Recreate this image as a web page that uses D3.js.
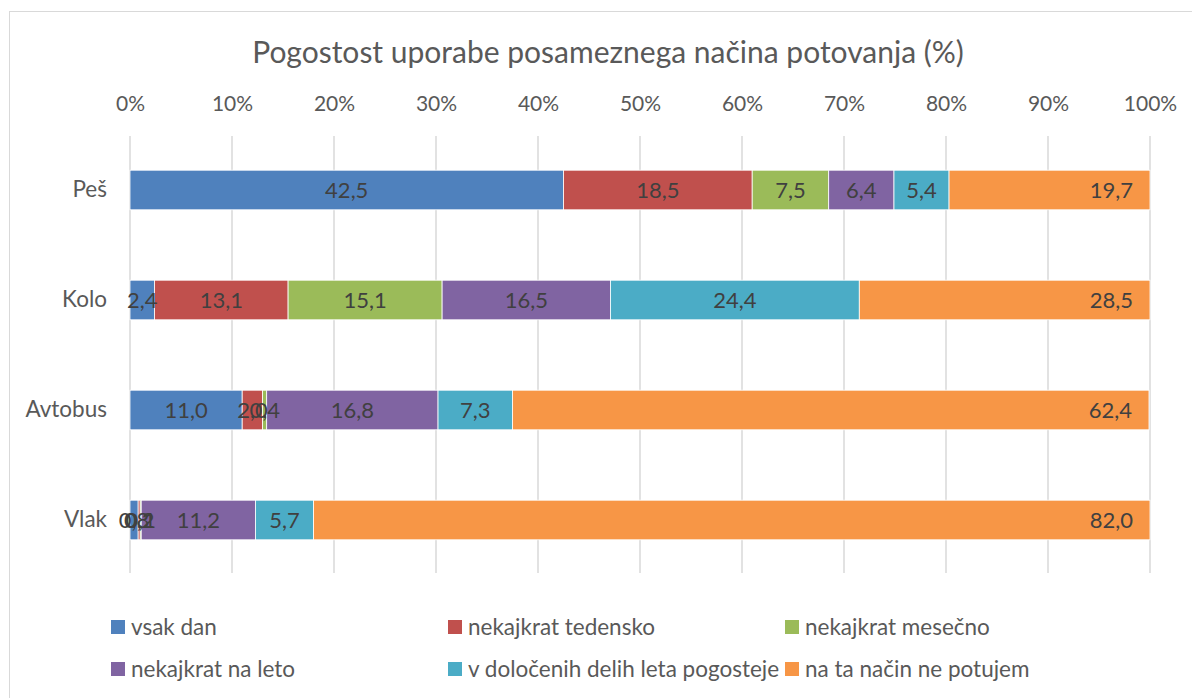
<!DOCTYPE html>
<html>
<head>
<meta charset="utf-8">
<script src="https://cdn.jsdelivr.net/npm/d3@7"></script>
<style>
  body { margin: 0; background: #fff; }
  text { font-family: Lato, "Open Sans", sans-serif; }
</style>
</head>
<body>
<div id="chart"></div>
<script>
var categories = ["Peš", "Kolo", "Avtobus", "Vlak"];
var seriesNames = ["vsak dan", "nekajkrat tedensko", "nekajkrat mesečno",
                   "nekajkrat na leto", "v določenih delih leta pogosteje", "na ta način ne potujem"];
var vsakDan      = [42.5, 2.4, 11.0, 0.8];
var tedensko     = [18.5, 13.1, 2.0, 0.2];
var mesecno      = [7.5, 15.1, 0.4, 0.1];
var naLeto       = [6.4, 16.5, 16.8, 11.2];
var pogosteje    = [5.4, 24.4, 7.3, 5.7];
var nePotujem    = [19.7, 28.5, 62.4, 82.0];
var tickValues = [0, 10, 20, 30, 40, 50, 60, 70, 80, 90, 100];
var colors = ["#4f81bd", "#c0504d", "#9bbb59", "#8064a2", "#4bacc6", "#f79646"];

var width = 1192, height = 698;
var svg = d3.select("#chart").append("svg").attr("width", width).attr("height", height);

// chart area border
svg.append("rect")
    .attr("x", 9.5).attr("y", 11.5)
    .attr("width", 1190).attr("height", 700)
    .attr("fill", "#fff").attr("stroke", "#d9d9d9");

svg.append("text")
    .attr("x", 608).attr("y", 63)
    .attr("text-anchor", "middle")
    .attr("font-size", 30)
    .attr("fill", "#595959")
    .text("Pogostost uporabe posameznega načina potovanja (%)");

var x = d3.scaleLinear().domain([0, 100]).range([130, 1150]);
var y = d3.scaleBand().domain(categories).range([135, 575])
    .paddingInner(0.64).paddingOuter(0.32);

// gridlines
svg.append("g").selectAll("line")
    .data(tickValues)
    .join("line")
    .attr("x1", d => x(d)).attr("x2", d => x(d))
    .attr("y1", 136).attr("y2", 573)
    .attr("stroke", "#d9d9d9").attr("stroke-width", 1.5);

// top axis labels
var xAxis = svg.append("g")
    .attr("transform", "translate(0,111)")
    .call(d3.axisTop(x).tickValues(tickValues).tickFormat(d => d + "%").tickSize(0).tickPadding(0));
xAxis.select(".domain").remove();
xAxis.selectAll("text")
    .attr("font-size", 21).attr("fill", "#595959")
    .style("font-family", "Lato, 'Open Sans', sans-serif");

// category labels
var yAxis = svg.append("g")
    .attr("transform", "translate(107,0)")
    .call(d3.axisLeft(y).tickSize(0).tickPadding(0));
yAxis.select(".domain").remove();
yAxis.selectAll("text")
    .attr("font-size", 22.5).attr("fill", "#595959")
    .style("font-family", "Lato, 'Open Sans', sans-serif");

var allSeries = [vsakDan, tedensko, mesecno, naLeto, pogosteje, nePotujem];
var rows = categories.map(function(c, i) {
    var r = { cat: c };
    seriesNames.forEach(function(s, j) { r[s] = allSeries[j][i]; });
    return r;
});
var stacked = d3.stack().keys(seriesNames)(rows);

var layers = svg.append("g").selectAll("g")
    .data(stacked)
    .join("g")
    .attr("fill", (d, i) => colors[i]);

layers.selectAll("rect")
    .data(d => d)
    .join("rect")
    .attr("x", d => x(d[0]))
    .attr("y", d => y(d.data.cat))
    .attr("width", d => x(d[1]) - x(d[0]))
    .attr("height", y.bandwidth())
    .attr("stroke", "#fff").attr("stroke-width", 0.8);

var fmt = function(v) { return v.toFixed(1).replace(".", ","); };

stacked.forEach(function(layer, i) {
    var last = i === stacked.length - 1;
    svg.append("g").selectAll("text")
        .data(layer)
        .join("text")
        .attr("x", d => last ? x(d[1]) - 17 : (x(d[0]) + x(d[1])) / 2)
        .attr("y", d => y(d.data.cat) + y.bandwidth() / 2)
        .attr("dy", "0.35em")
        .attr("text-anchor", last ? "end" : "middle")
        .attr("font-size", 22)
        .attr("fill", "#404040")
        .text(d => fmt(d[1] - d[0]));
});

// legend
var legendPos = [[111, 627], [448, 627], [785, 627], [111, 669], [448, 669], [785, 669]];
var legend = svg.append("g").selectAll("g")
    .data(seriesNames)
    .join("g")
    .attr("transform", (d, i) => "translate(" + legendPos[i][0] + "," + legendPos[i][1] + ")");
legend.append("rect")
    .attr("x", 0).attr("y", -7).attr("width", 14).attr("height", 14)
    .attr("fill", (d, i) => colors[i]);
legend.append("text")
    .attr("x", 20).attr("y", 0).attr("dy", "0.35em")
    .attr("font-size", 22.5).attr("fill", "#595959")
    .text(d => d);
</script>
</body>
</html>
